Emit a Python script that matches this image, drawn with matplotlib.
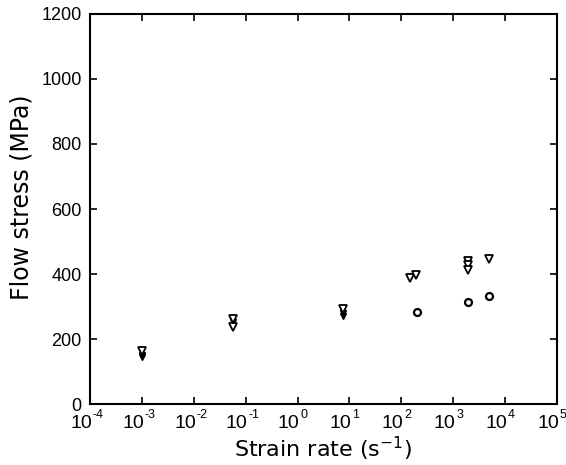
import matplotlib
matplotlib.use('Agg')
import matplotlib.pyplot as plt
import matplotlib.transforms as mtransforms

plt.rcParams['font.family'] = 'Liberation Sans'

# open down-triangles
tri_open_x = [1e-3, 0.057, 0.057, 7.6, 150, 190, 1950, 1950, 1950, 5000]
tri_open_y = [163, 262, 238, 292, 389, 397, 440, 427, 412, 446]
# filled down-triangles
tri_fill_x = [1e-3, 1e-3, 0.057, 7.6, 7.6]
tri_fill_y = [152, 144, 252, 281, 272]
# open circles
circ_x = [200, 1950, 5000]
circ_y = [282, 314, 333]

exponents = list(range(-4, 6))
yticks = list(range(0, 1201, 200))

fig = plt.figure(figsize=(5.66, 4.65), dpi=100)
ax = fig.add_axes([0.159, 0.131, 0.825, 0.839])

ax.plot(tri_fill_x, tri_fill_y, 'v', color='black', markersize=5, linestyle='none')
ax.plot(tri_open_x, tri_open_y, 'v', markerfacecolor='white', markeredgecolor='black',
        markeredgewidth=1.3, markersize=6, linestyle='none')
ax.plot(circ_x, circ_y, 'o', markerfacecolor='white', markeredgecolor='black',
        markeredgewidth=1.6, markersize=5, linestyle='none')

ax.set_xscale('log')
ax.set_xlim(1e-4, 1e5)
ax.set_ylim(0, 1200)
ax.set_xticks([10.0 ** k for k in exponents])
ax.set_xticklabels(['10'] * len(exponents), ha='right', fontsize=14)
ax.set_yticks(yticks)
ax.minorticks_off()
ax.tick_params(direction='in', length=5, width=1.2, top=True, right=True,
               labelsize=13, pad=6)
ax.tick_params(axis='x', pad=8, labelsize=14)
for s in ax.spines.values():
    s.set_linewidth(1.5)

# "10" labels sit left of the tick, exponent raised to the right
shift = mtransforms.ScaledTranslation(0.02, 0, fig.dpi_scale_trans)
for lab in ax.get_xticklabels():
    lab.set_transform(lab.get_transform() + shift)
trans = mtransforms.blended_transform_factory(ax.transData, ax.transAxes) + \
    mtransforms.ScaledTranslation(0.03, -0.045, fig.dpi_scale_trans)
for k in exponents:
    ax.text(10.0 ** k, 0, str(k), transform=trans, fontsize=9, ha='left', va='top',
            clip_on=False)

ax.set_xlabel('Strain rate (s$^{-1}$)', fontsize=16, family='DejaVu Sans', labelpad=2)
ax.set_ylabel('Flow stress (MPa)', fontsize=17, family='DejaVu Sans')
ax.yaxis.set_label_coords(-0.122, 0.531)

fig.savefig('out.png', dpi=100)
